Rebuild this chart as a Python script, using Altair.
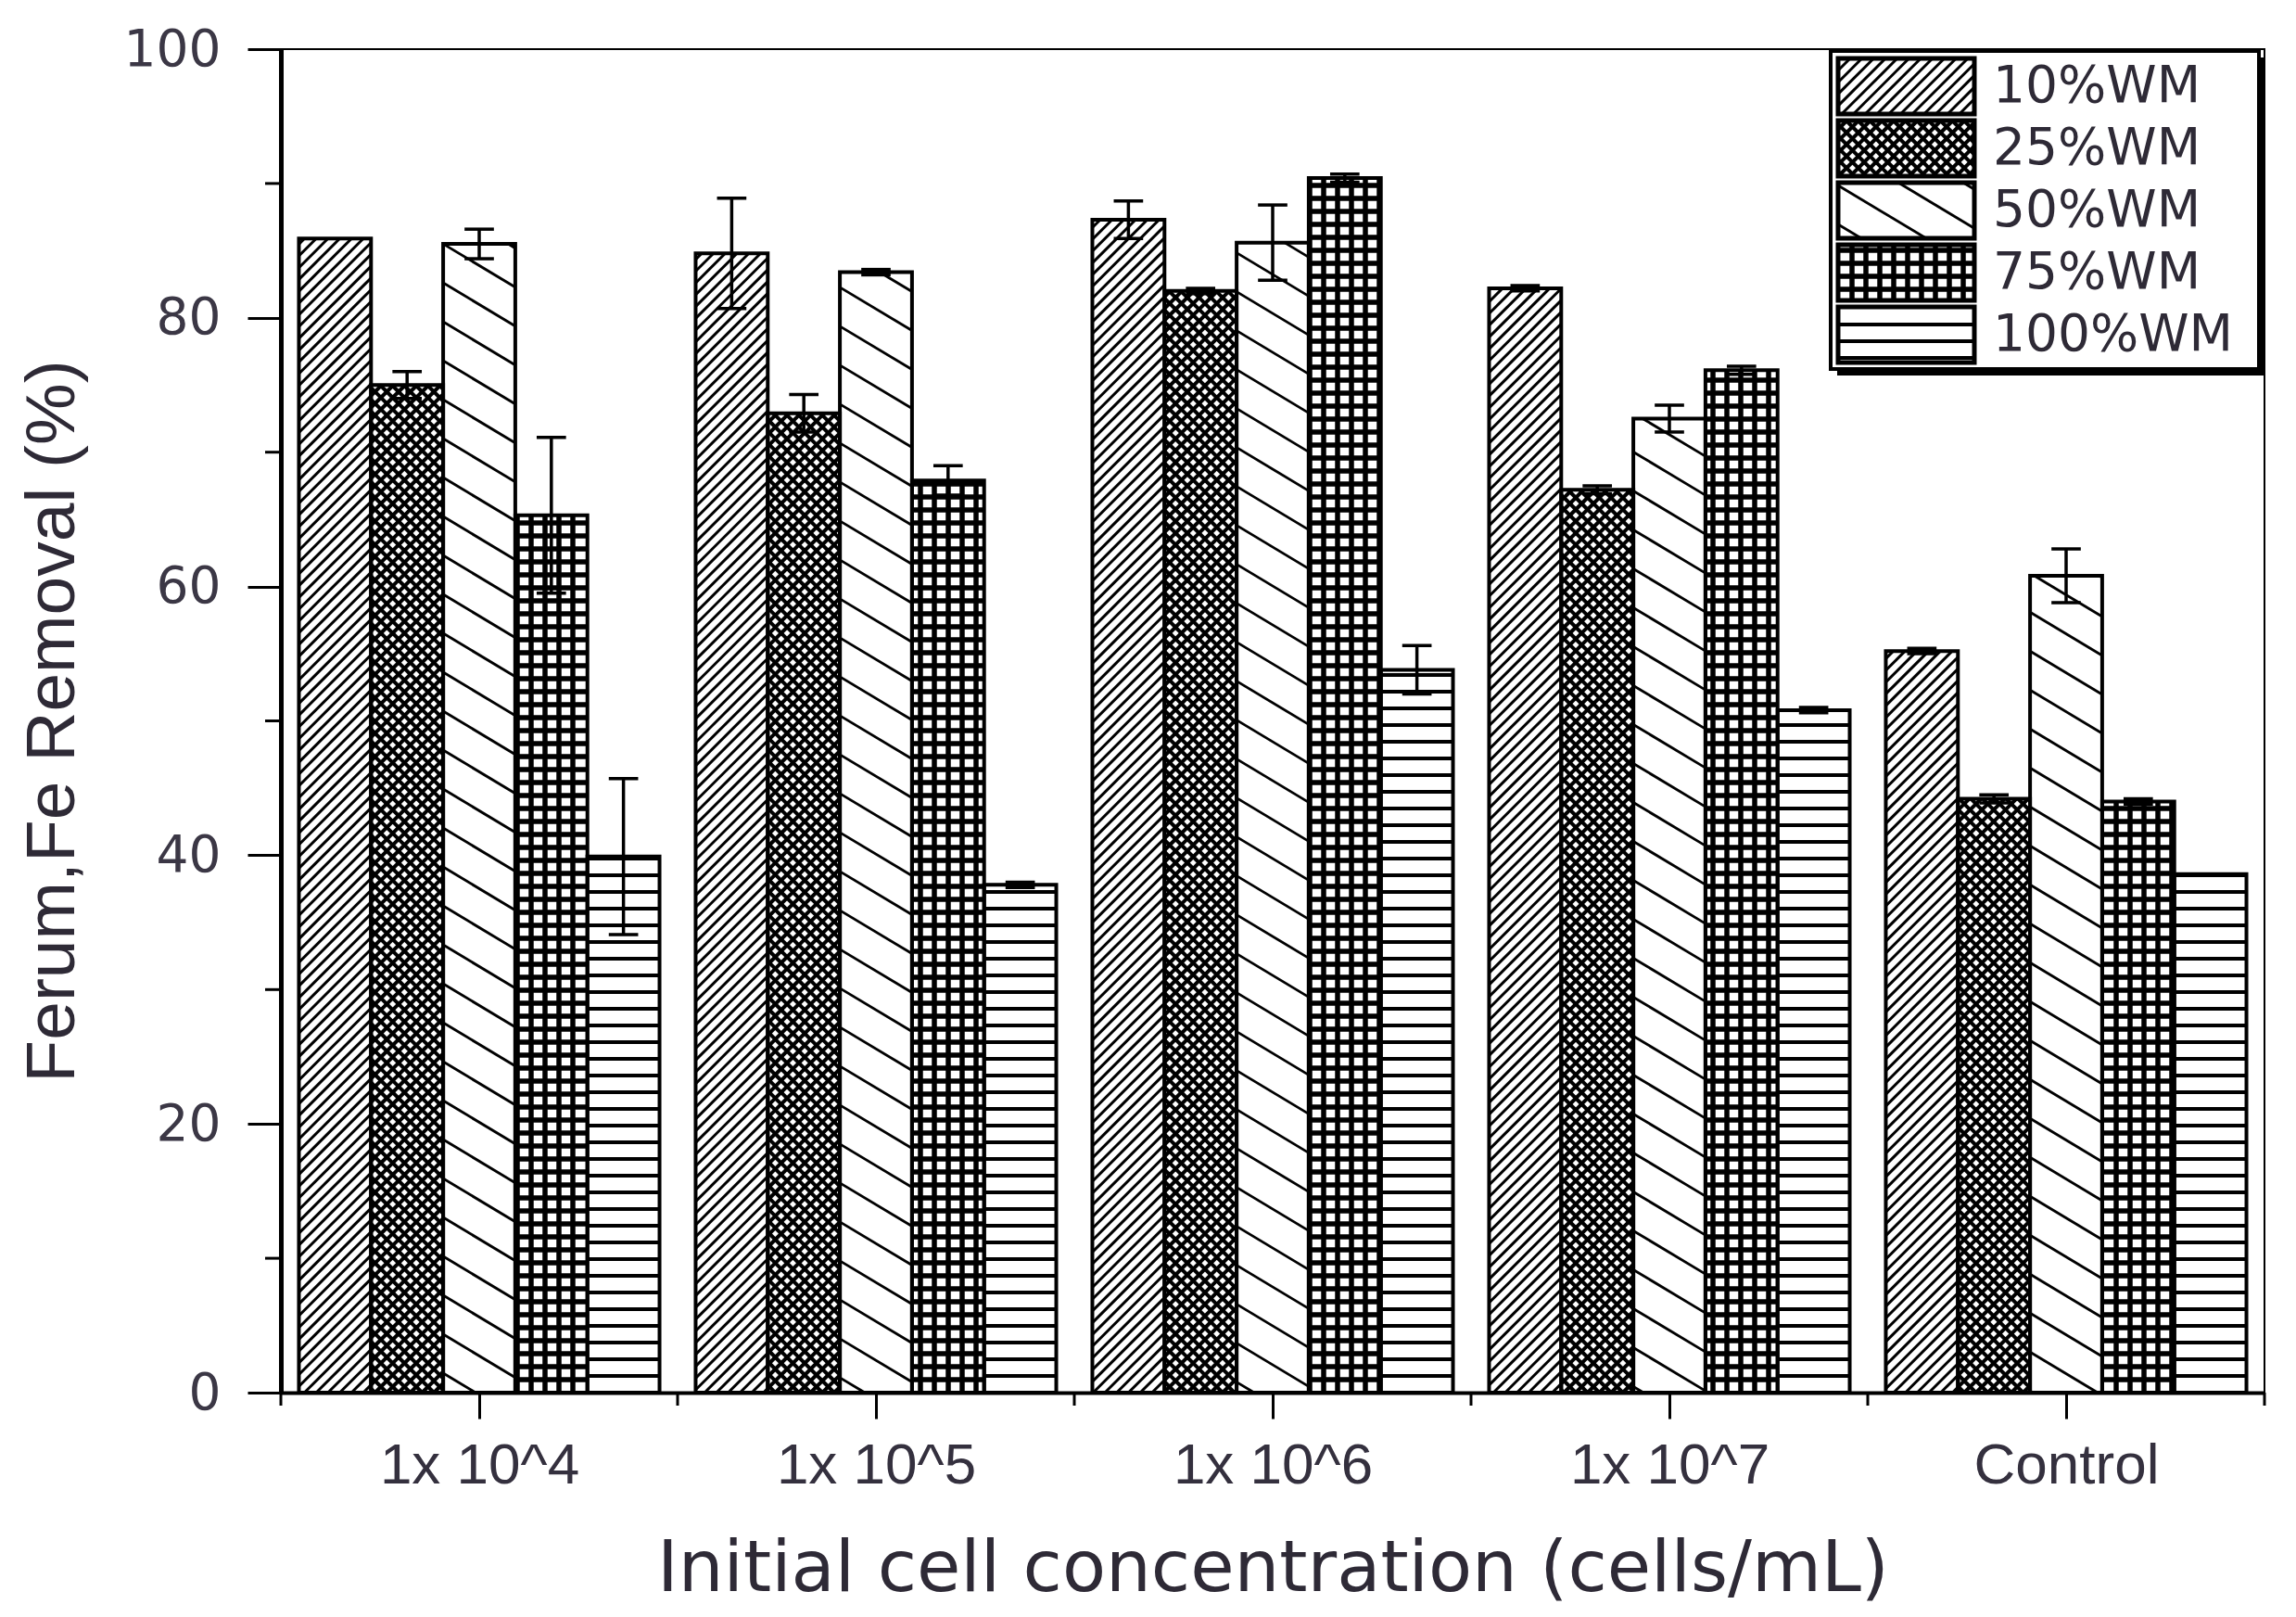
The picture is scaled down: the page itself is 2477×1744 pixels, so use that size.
import altair as alt
import numpy as np
import pandas as pd

# ---- data ----
categories = ["1x 10^4", "1x 10^5", "1x 10^6", "1x 10^7", "Control"]
series = ["10%WM", "25%WM", "50%WM", "75%WM", "100%WM"]

wm10 = [85.9, 84.8, 87.3, 82.2, 55.2]
wm25 = [75.0, 72.9, 82.0, 67.2, 44.2]
wm50 = [85.5, 83.4, 85.6, 72.5, 60.8]
wm75 = [65.3, 67.9, 90.4, 76.1, 44.0]
wm100 = [39.9, 37.8, 53.8, 50.8, 38.6]

err10 = [0.0, 4.1, 1.4, 0.2, 0.2]
err25 = [1.0, 1.4, 0.2, 0.3, 0.3]
err50 = [1.1, 0.2, 2.8, 1.0, 2.0]
err75 = [5.8, 1.1, 0.3, 0.3, 0.2]
err100 = [5.8, 0.2, 1.8, 0.2, 0.0]

values = [wm10, wm25, wm50, wm75, wm100]
errors = [err10, err25, err50, err75, err100]

# ---- geometry ----
W, H = 2140, 1449
XMIN, XMAX = -0.5, 4.5
BAR_W = 0.1818
CAP = 0.037
PXX = W / (XMAX - XMIN)
PXY = H / 100.0
LEFT, TOP = 303, 53  # plot origin on the page


def page_to_data(px, py):
    return XMIN + (px - LEFT) / PXX, (TOP + H - py) / PXY


# hatch styles per series: (kind, slope, step px, stroke width)
patterns = [
    [("s", 1.0, 12.7, 3.0)],
    [("s", 1.0, 12.7, 4.0), ("s", -1.0, 12.7, 4.0)],
    [("s", -0.6, 42.0, 2.8)],
    [("v", None, 15.0, 5.5), ("h", None, 14.0, 5.5)],
    [("h", None, 18.0, 4.0)],
]


def hatch(xl, xr, yb, yt, pat):
    X0, X1 = (xl - XMIN) * PXX, (xr - XMIN) * PXX
    Y0, Y1 = yb * PXY, yt * PXY
    segs = []
    for kind, m, step, sw in pat:
        if kind == "s":
            cs = [Y0 - m * X0, Y0 - m * X1, Y1 - m * X0, Y1 - m * X1]
            for k in range(int(np.floor(min(cs) / step)), int(np.ceil(max(cs) / step)) + 1):
                c = k * step
                xa, xb = (Y0 - c) / m, (Y1 - c) / m
                lo, hi = max(X0, min(xa, xb)), min(X1, max(xa, xb))
                if hi - lo > 0.5:
                    segs.append((lo, m * lo + c, hi, m * hi + c, sw))
        elif kind == "h":
            for k in range(int(np.ceil(Y0 / step)), int(np.floor(Y1 / step)) + 1):
                y = k * step
                if Y0 + 1 < y < Y1 - 1:
                    segs.append((X0, y, X1, y, sw))
        else:
            for k in range(int(np.ceil(X0 / step)), int(np.floor(X1 / step)) + 1):
                x = k * step
                if X0 + 1 < x < X1 - 1:
                    segs.append((x, Y0, x, Y1, sw))
    return [dict(x=a / PXX + XMIN, y=b / PXY, x2=c / PXX + XMIN, y2=d / PXY, sw=s)
            for a, b, c, d, s in segs]


bar_rows, err_rows, hatch_rows, leg_hatch_rows = [], [], [], []
for j, name in enumerate(series):
    for i, cat in enumerate(categories):
        xc = i + (j - 2) * BAR_W
        v, e = values[j][i], errors[j][i]
        bar_rows.append(dict(xl=xc - BAR_W / 2, xr=xc + BAR_W / 2, v=v, base=0.0))
        hatch_rows += hatch(xc - BAR_W / 2, xc + BAR_W / 2, 0, v, patterns[j])
        if e > 0:
            err_rows.append(dict(x=xc, x2=xc, y=v - e, y2=v + e))
            err_rows.append(dict(x=xc - CAP, x2=xc + CAP, y=v + e, y2=v + e))
            err_rows.append(dict(x=xc - CAP, x2=xc + CAP, y=v - e, y2=v - e))

# ---- legend (page pixel layout converted to data units) ----
leg_rows, leg_text = [], []
for r, name in enumerate(series):
    top = 63 + r * 67
    x0, y0 = page_to_data(1983, top + 60)
    x1, y1 = page_to_data(2130, top)
    leg_rows.append(dict(xl=x0, xr=x1, v=y1, base=y0))
    leg_hatch_rows += hatch(x0, x1, y0, y1, patterns[r])
    tx, ty = page_to_data(2150, top + 30)
    leg_text.append(dict(x=tx, y=ty, label=name))

bx0, by0 = page_to_data(1975, 398)
bx1, by1 = page_to_data(2437, 55)
sx0, sy0 = page_to_data(1982, 405)
sx1, sy1 = page_to_data(2444, 62)
box = pd.DataFrame([dict(xl=bx0, xr=bx1, v=by1, base=by0)])
shadow = pd.DataFrame([dict(xl=sx0, xr=sx1, v=sy1, base=sy0)])

bars = pd.DataFrame(bar_rows)
errs = pd.DataFrame(err_rows)
hatches = pd.DataFrame(hatch_rows)
leg_hatches = pd.DataFrame(leg_hatch_rows)
legend_sw = pd.DataFrame(leg_rows)
legend_tx = pd.DataFrame(leg_text)

XS = alt.Scale(domain=[XMIN, XMAX], nice=False, zero=False)
YS = alt.Scale(domain=[0, 100], nice=False, zero=False)

label_expr = "[" + ",".join("'%s'" % c for c in categories) + "][round(datum.value)]"
x_axis = alt.Axis(values=[0, 1, 2, 3, 4], labelExpr=label_expr, grid=False,
                  title="Initial cell concentration (cells/mL)",
                  domainColor="black", domainWidth=4, tickColor="black", tickWidth=3,
                  tickSize=28, labelPadding=50, labelBaseline="middle", labelLimit=0,
                  labelFont="Liberation Sans", labelFontSize=62, labelColor="#34303e",
                  titleFont="DejaVu Sans", titleFontSize=77, titleFontWeight="normal",
                  titleColor="#2e2a36", titleX=W / 2, titleY=190, titleBaseline="middle",
                  titleAlign="center", titleLimit=0)
y_axis = alt.Axis(values=[0, 20, 40, 60, 80, 100], grid=False,
                  title="Ferum,Fe Removal (%)",
                  domainColor="black", domainWidth=5, tickColor="black", tickWidth=3,
                  tickSize=36, labelPadding=29, labelLimit=0,
                  labelFont="DejaVu Sans", labelFontSize=55, labelColor="#3b3745",
                  titleFont="Liberation Sans", titleFontSize=75, titleFontWeight="normal",
                  titleColor="#2e2a36", titleX=-247, titleY=H / 2, titleAngle=270,
                  titleBaseline="middle", titleAlign="center", titleLimit=0)


def rects(df, **mk):
    return alt.Chart(df).mark_rect(**mk).encode(
        x=alt.X("xl:Q", scale=XS, axis=x_axis), x2="xr:Q",
        y=alt.Y("v:Q", scale=YS, axis=y_axis), y2="base:Q")


def rules(df, sw_field=True, **mk):
    enc = dict(x=alt.X("x:Q", scale=XS, axis=x_axis), x2="x2:Q",
               y=alt.Y("y:Q", scale=YS, axis=y_axis), y2="y2:Q")
    if sw_field:
        enc["strokeWidth"] = alt.StrokeWidth("sw:Q", scale=None, legend=None)
    return alt.Chart(df).mark_rule(**mk).encode(**enc)


bar_fill = rects(bars, fill="white")
hatch_layer = rules(hatches, color="black")
bar_edge = rects(bars, fill=None, stroke="black", strokeWidth=4)
err_layer = rules(errs, sw_field=False, color="black", strokeWidth=3.5)

# minor ticks
y_minor = alt.Chart(pd.DataFrame({"m": [10, 30, 50, 70, 90]})).mark_rule(
    color="black", strokeWidth=3).encode(
    y=alt.Y("m:Q", scale=YS, axis=y_axis), x=alt.value(-17), x2=alt.value(0))
x_minor = alt.Chart(pd.DataFrame({"m": [-0.5, 0.5, 1.5, 2.5, 3.5, 4.5]})).mark_rule(
    color="black", strokeWidth=3).encode(
    x=alt.X("m:Q", scale=XS, axis=x_axis), y=alt.value(H), y2=alt.value(H + 14))

leg_shadow = rects(shadow, fill="black")
leg_box = rects(box, fill="white", stroke="black", strokeWidth=4)
leg_fill = rects(legend_sw, fill="white")
leg_hatch = rules(leg_hatches, color="black")
leg_edge = rects(legend_sw, fill=None, stroke="black", strokeWidth=5)
leg_label = alt.Chart(legend_tx).mark_text(
    align="left", baseline="middle", font="DejaVu Sans", fontSize=55, color="#2e2a36").encode(
    x=alt.X("x:Q", scale=XS, axis=x_axis), y=alt.Y("y:Q", scale=YS, axis=y_axis),
    text="label:N")

chart = alt.layer(
    bar_fill, hatch_layer, bar_edge, err_layer, y_minor, x_minor,
    leg_shadow, leg_box, leg_fill, leg_hatch, leg_edge, leg_label,
).properties(
    width=W, height=H,
    padding={"left": LEFT - 8, "top": TOP - 8, "right": 20, "bottom": 238},
    autosize=alt.AutoSizeParams(type="none"),
).configure_view(stroke="black", strokeWidth=2)

chart.save("out.html", embed_options={"renderer": "svg", "actions": False})
